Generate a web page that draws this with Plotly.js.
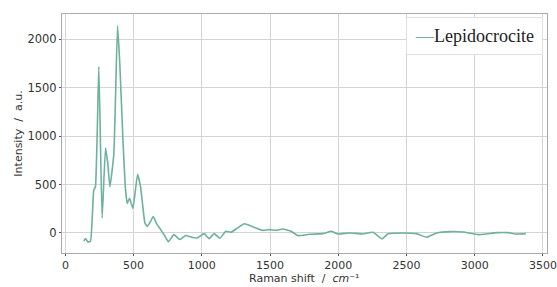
<!DOCTYPE html>
<html><head><meta charset="utf-8">
<script src="https://cdn.plot.ly/plotly-3.0.1.min.js"></script>
<style>html,body{margin:0;padding:0;background:#fff}#c{width:557px;height:287px}</style>
</head><body><div id="c"></div>
<script>
const seriesName = "Lepidocrocite";
const lineColor = "#6db29a";
const ramanShift = [135,147,166,184,208,220,245,269,294,311,326,355,382,399,421,441,453,470,495,529,551,583,600,617,644,666,698,730,755,796,838,882,919,968,1017,1054,1090,1132,1176,1213,1260,1311,1372,1446,1495,1544,1593,1654,1703,1789,1887,1949,1997,2083,2181,2254,2320,2365,2475,2574,2647,2721,2818,2916,3026,3088,3162,3247,3296,3375];
const intensity = [-85,-57,-95,-85,443,477,1718,153,878,714,477,816,2143,1735,987,443,306,357,255,606,477,102,68,102,170,102,35,-34,-90,-17,-68,-27,-41,-51,-7,-58,-7,-55,17,7,50,95,65,27,34,27,41,17,-27,-14,-7,17,-10,0,-10,7,-61,-7,0,-7,-44,0,14,10,-17,-10,3,3,-10,-7];
const xTicks = [0,500,1000,1500,2000,2500,3000,3500];
const yTicks = [0,500,1000,1500,2000];

const axisCommon = {
  showgrid: true, gridcolor: "#d4d4d4", gridwidth: 1,
  showline: true, linecolor: "#aaaaaa", linewidth: 1, mirror: true,
  ticks: "outside", ticklen: 2, tickcolor: "#555", zeroline: false,
  tickfont: {family: "DejaVu Sans", size: 11.5, color: "#333"}
};
const layout = {
  width: 557, height: 287,
  margin: {l: 62, r: 10, t: 14, b: 34},
  paper_bgcolor: "#fff", plot_bgcolor: "#fff",
  showlegend: false,
  xaxis: Object.assign({}, axisCommon, {range: [-25, 3530], tickvals: xTicks, automargin: false,
    tickfont: {family: "DejaVu Sans", size: 11, color: "#333"}}),
  yaxis: Object.assign({}, axisCommon, {range: [-207, 2262], tickvals: yTicks, automargin: false,
    title: {text: "Intensity  /  a.u.", standoff: 2,
      font: {family: "DejaVu Sans", size: 11, color: "#333"}}}),
  annotations: [
    {xref: "paper", yref: "paper", x: 0.5, y: 0, yanchor: "bottom", yshift: -34, showarrow: false,
     text: "Raman shift  /  <i>cm</i>⁻¹",
     font: {family: "DejaVu Sans", size: 11, color: "#333"}},
    {xref: "paper", yref: "paper", x: 1, y: 1, xanchor: "right", yanchor: "top",
     xshift: -4, yshift: -3, showarrow: false,
     text: '<span style="color:' + lineColor + '">—</span>' + seriesName,
     bgcolor: "rgba(255,255,255,0.9)", bordercolor: "#e0e0e0", borderwidth: 1, borderpad: 8,
     font: {family: "Liberation Serif", size: 18, color: "#222"}}
  ]
};
Plotly.newPlot("c", [{
  x: ramanShift, y: intensity, type: "scatter", mode: "lines", name: seriesName,
  line: {color: lineColor, width: 1.6, shape: "spline", smoothing: 0.4}
}], layout, {staticPlot: true, displayModeBar: false});
</script></body></html>
